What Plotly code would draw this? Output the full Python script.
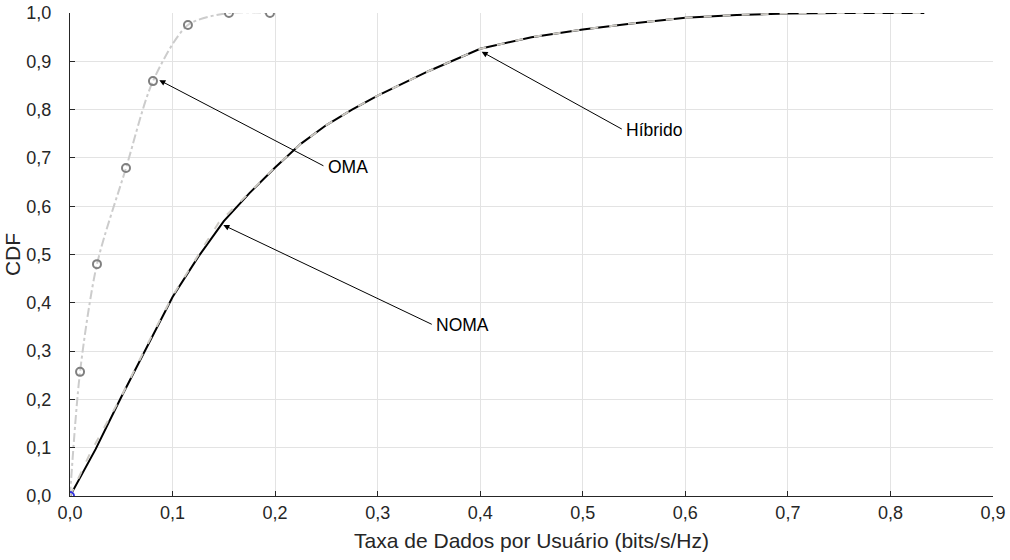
import plotly.graph_objects as go

# OMA (dash-dot with circle markers)
oma_x = [0.0, 0.0098, 0.0263, 0.0546, 0.0809, 0.115, 0.155, 0.195]
oma_y = [0.0, 0.257, 0.480, 0.679, 0.859, 0.975, 1.0, 1.0]

# NOMA (black solid)
noma_x = [0.0, 0.025, 0.05, 0.075, 0.1, 0.125, 0.15, 0.175, 0.2, 0.225, 0.25, 0.275, 0.3,
          0.35, 0.4, 0.45, 0.5, 0.55, 0.6, 0.65, 0.7, 0.75, 0.833]
noma_y = [0.0, 0.097, 0.205, 0.31, 0.412, 0.495, 0.569, 0.627, 0.680, 0.729, 0.768, 0.800, 0.829,
          0.880, 0.926, 0.950, 0.966, 0.979, 0.990, 0.996, 0.999, 1.0, 1.0]

# Híbrido (light gray dashed)
hib_x = [0.0, 0.02, 0.05, 0.075, 0.1, 0.125, 0.145, 0.175, 0.2, 0.225, 0.25, 0.275, 0.3,
         0.35, 0.4, 0.45, 0.5, 0.55, 0.6, 0.65, 0.7, 0.75, 0.833]
hib_y = [0.0, 0.09, 0.206, 0.312, 0.414, 0.499, 0.566, 0.628, 0.681, 0.729, 0.768, 0.800, 0.829,
         0.880, 0.926, 0.950, 0.966, 0.979, 0.990, 0.996, 0.999, 1.0, 1.0]

x_ticks = [0.0, 0.1, 0.2, 0.3, 0.4, 0.5, 0.6, 0.7, 0.8, 0.9]
y_ticks = [0.0, 0.1, 0.2, 0.3, 0.4, 0.5, 0.6, 0.7, 0.8, 0.9, 1.0]

# annotations: label, head (x, y), tail (x, y)
ann_labels = ["OMA", "NOMA", "Híbrido"]
ann_head = [(0.0871, 0.861), (0.1495, 0.561), (0.4014, 0.920)]
ann_tail = [(0.2486, 0.682), (0.3542, 0.354), (0.5395, 0.758)]

FONT = "Liberation Sans, Arial, Helvetica, sans-serif"

fig = go.Figure()

fig.add_trace(go.Scatter(
    x=noma_x, y=noma_y, mode="lines", name="NOMA",
    line=dict(color="#000000", width=2),
))
fig.add_trace(go.Scatter(
    x=hib_x, y=hib_y, mode="lines", name="Híbrido",
    line=dict(color="#cdcac4", width=2, dash="8px,11px"),
))
marker_cols = ["#3333dd"] + ["#808080"] * (len(oma_x) - 1)
fig.add_trace(go.Scatter(
    x=oma_x, y=oma_y, mode="lines+markers", name="OMA",
    line=dict(color="#cccccc", width=2, dash="dashdot", shape="spline", smoothing=0.8),
    marker=dict(symbol="circle-open", size=8, color=marker_cols,
                line=dict(color=marker_cols, width=2)),
))

for lab, (hx, hy), (tx, ty) in zip(ann_labels, ann_head, ann_tail):
    fig.add_annotation(
        x=hx, y=hy, ax=tx, ay=ty, xref="x", yref="y", axref="x", ayref="y",
        text="", showarrow=True, arrowhead=2, arrowsize=1.2, arrowwidth=1,
        arrowcolor="#000000",
    )
    fig.add_annotation(
        x=tx, y=ty, xref="x", yref="y", text=lab, showarrow=False,
        xanchor="left", yanchor="middle", xshift=1,
        font=dict(family=FONT, size=17.5, color="#000000"),
    )

axis_common = dict(
    showgrid=True, gridcolor="#e3e3e3", gridwidth=1,
    showline=True, linecolor="#262626", linewidth=1,
    ticks="inside", ticklen=5, tickcolor="#262626", tickwidth=1,
    tickfont=dict(family=FONT, size=18, color="#262626"),
    zeroline=False, mirror=False, tickformat=".1f", automargin=False,
)

fig.update_xaxes(range=[0, 0.9], tickvals=x_ticks, **axis_common,
                 title=dict(text="Taxa de Dados por Usuário (bits/s/Hz)",
                            font=dict(family=FONT, size=21, color="#262626"), standoff=11))
fig.update_yaxes(range=[0, 1.0], tickvals=y_ticks, ticklabelstandoff=14, **axis_common,
                 title=dict(text="CDF", font=dict(family=FONT, size=21, color="#262626"),
                            standoff=0))

fig.update_layout(
    width=1010, height=560,
    margin=dict(l=70, r=17, t=13, b=64, autoexpand=False),
    plot_bgcolor="#ffffff", paper_bgcolor="#ffffff",
    showlegend=False, separators=", ",
    font=dict(family=FONT),
)

fig.write_html("out.html", config={"displayModeBar": False},
               post_script="document.body.style.margin='0';document.body.style.overflow='hidden';")
